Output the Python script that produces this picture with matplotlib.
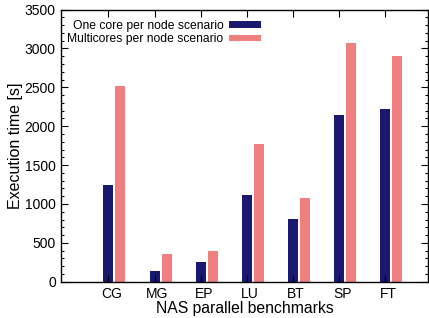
import numpy as np
import matplotlib
matplotlib.use("Agg")
import matplotlib.pyplot as plt
import matplotlib.transforms as mtransforms
from matplotlib.ticker import MultipleLocator

plt.rcParams['font.family'] = ['Liberation Sans', 'DejaVu Sans']

# data
benchmarks = ["CG", "MG", "EP", "LU", "BT", "SP", "FT"]
one_core = [1243, 137, 253, 1115, 806, 2143, 2221]
multi_core = [2516, 356, 395, 1771, 1076, 3069, 2902]

x = np.arange(len(benchmarks))
w = 0.217

fig = plt.figure(figsize=(4.29, 3.18), dpi=100)
ax = fig.add_axes([0.143, 0.114, 0.855, 0.856])

ax.bar(x, one_core, w, color="#191970", label="One core per node scenario")
ax.bar(x + 0.26, multi_core, w, color="#f08080", label="Multicores per node scenario")

ax.set_xlim(-1.02, 6.93)
ax.set_ylim(0, 3500)
ax.set_xticks(x)
ax.set_xticklabels(benchmarks)
ax.yaxis.set_major_locator(MultipleLocator(500))
ax.yaxis.set_minor_locator(MultipleLocator(100))
ax.tick_params(axis="both", which="major", direction="in", length=5, width=0.8,
               top=True, right=True, labelsize=10, pad=4)
ax.tick_params(axis="y", which="minor", direction="in", length=2.5, width=0.8,
               right=True)
for s in ax.spines.values():
    s.set_linewidth(1.0)

# gnuplot puts the category names a little right of the tick
shift = mtransforms.ScaledTranslation(3 / 100, 0, fig.dpi_scale_trans)
for lab in ax.get_xticklabels():
    lab.set_transform(lab.get_transform() + shift)

ax.set_xlabel("NAS parallel benchmarks", fontsize=11.3, labelpad=0)
ax.set_ylabel("Execution time [s]", fontsize=11.5, labelpad=1)

ax.legend(loc="upper left", frameon=False, markerfirst=False, fontsize=8.7,
          handlelength=2.6, handleheight=0.4, handletextpad=0.5,
          labelspacing=0.1, borderaxespad=0.45, bbox_to_anchor=(-0.012, 1.0))

fig.savefig("out.png", dpi=100)
